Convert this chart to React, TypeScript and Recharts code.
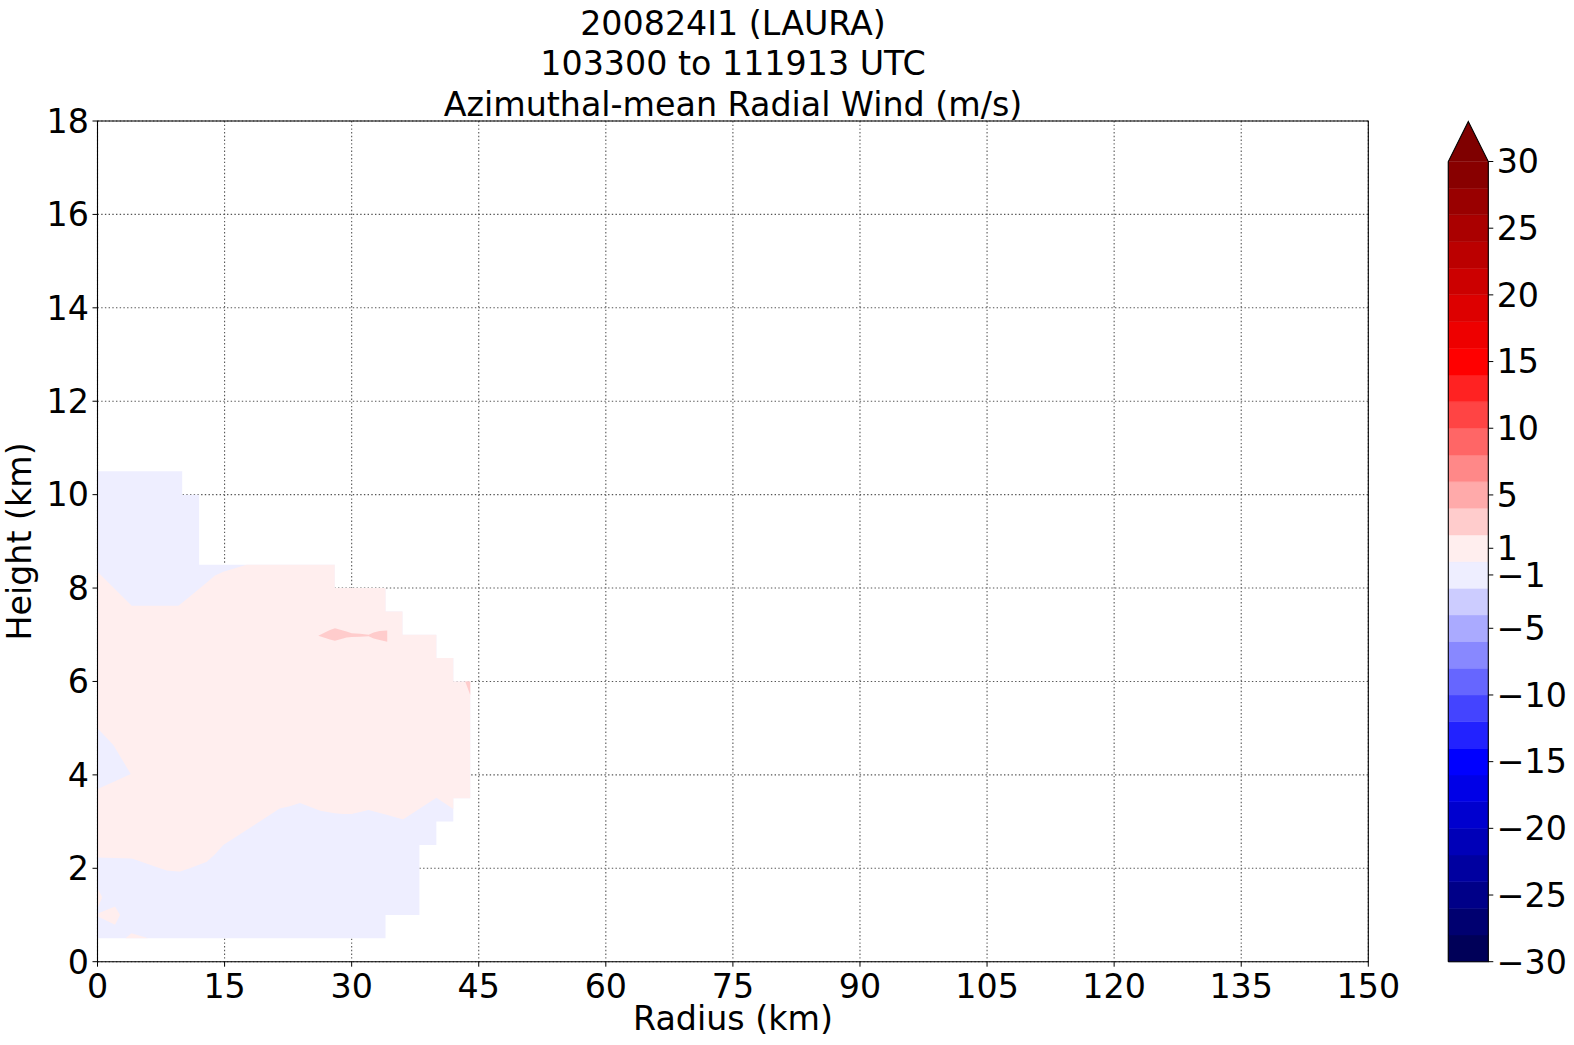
import React from "react";
import {
  ComposedChart, Area, Line, XAxis, YAxis, CartesianGrid, ReferenceArea,
} from "recharts";

// contour levels (m/s) and the colour of each filled band between them
const levels = [
  -30, -28, -26, -24, -22, -20, -18, -16, -14, -12, -10, -8, -6, -4, -2, 0,
  2, 4, 6, 8, 10, 12, 14, 16, 18, 20, 22, 24, 26, 28, 30,
];
const bandColors = [
  "#000058", "#000070", "#000088", "#0000a0", "#0000b8", "#0000cf", "#0000e7", "#0000ff",
  "#2222ff", "#4444ff", "#6666ff", "#8888ff", "#aaaaff", "#ccccff", "#eeeeff", "#ffeeee",
  "#ffcccc", "#ffaaaa", "#ff8888", "#ff6666", "#ff4444", "#ff2222", "#ff0000", "#ee0000",
  "#dd0000", "#cc0000", "#bb0000", "#aa0000", "#990000", "#880000",
]
const overColor = "#7f0000"
const cbarTicks = [-30, -25, -20, -15, -10, -5, -1, 1, 5, 10, 15, 20, 25, 30]

const radiusTicks = [0, 15, 30, 45, 60, 75, 90, 105, 120, 135, 150]
const heightTicks = [0, 2, 4, 6, 8, 10, 12, 14, 16, 18]

// regions of the contour plot: [radius km, lower height km, upper height km]
// outline of where data exists (drawn in the -2..0 band colour)
const dataFootprint = [
  [0, 0.5, 10.5], [10, 0.5, 10.5], [10, 0.5, 10], [12, 0.5, 10], [12, 0.5, 8.5],
  [28, 0.5, 8.5], [28, 0.5, 8], [34, 0.5, 8], [34, 1, 7.5], [36, 1, 7.5], [36, 1, 7],
  [38, 1, 7], [38, 2.5, 7], [40, 2.5, 7], [40, 3, 6.5], [42, 3, 6.5], [42, 3.5, 6],
  [44, 3.5, 6],
]
// 0..2 m/s outflow layer
const weakOutflow = [
  [0, 2.23, 8.35], [4.04, 2.21, 7.62], [4.23, 2.2, 7.62], [7.38, 2.0, 7.62],
  [8.17, 1.95, 7.62], [9.54, 1.93, 7.62], [9.74, 1.93, 7.65], [10.9, 2.0, 7.82],
  [12.9, 2.14, 8.12], [13.87, 2.3, 8.27], [14.85, 2.5, 8.35], [17.6, 2.82, 8.5],
  [21.5, 3.28, 8.5], [22.7, 3.33, 8.5], [23.9, 3.4, 8.5], [26.3, 3.23, 8.5],
  [28, 3.18, 8.5], [28, 3.18, 8], [29, 3.16, 8], [30, 3.16, 8], [32, 3.25, 8],
  [34, 3.15, 8], [34, 3.15, 7.5], [36, 3.05, 7.5], [36, 3.05, 7], [36.1, 3.05, 7],
  [40, 3.51, 7], [40, 3.51, 6.5], [42, 3.27, 6.5], [42, 3.5, 6], [44, 3.5, 6],
]
const inflowWedge = [[0, 3.7, 5.0], [1.87, 3.85, 4.64], [3.92, 4.02, 4.02]]
const lowOutflowBits = [
  [[0, 1.14, 1.57], [0.5, 1.36, 1.4]],
  [[0.1, 0.96, 1.04], [2.07, 0.79, 1.18], [2.66, 1.0, 1.0]],
  [[3.3, 0.5, 0.5], [4.0, 0.5, 0.61], [6.0, 0.5, 0.5]],
]
// 2..4 m/s patches
const strongerOutflow = [
  [[26.06, 6.98, 6.98], [27.44, 6.9, 7.1], [28.03, 6.87, 7.14], [29.4, 6.94, 7.07],
   [30.0, 6.95, 7.03], [31.0, 6.96, 7.02], [32.0, 6.97, 7.0], [32.6, 6.92, 7.05],
   [33.3, 6.89, 7.08], [34.2, 6.85, 7.09]],
  [[43.4, 6.0, 6.0], [44, 5.71, 6.0]],
]

const FONT = "DejaVu Sans"
const FS = 33.3

const toRows = (pts: number[][]) => pts.map(([x, lo, hi]) => ({ x, r: [lo, hi] }))

function region(key: string, pts: number[][], color: string) {
  return (
    <Area
      key={key}
      data={toRows(pts)}
      dataKey="r"
      type="linear"
      fill={color}
      fillOpacity={1}
      stroke="none"
      dot={false}
      activeDot={false}
      isAnimationActive={false}
    />
  )
}

const fmt = (v: number) => (v < 0 ? "\u2212" + Math.abs(v) : String(v))

function ColorBar() {
  const outline = [
    { x: 0, y: -30 }, { x: 0, y: 30 }, { x: 0.5, y: 33 }, { x: 1, y: 30 }, { x: 1, y: -30 }, { x: 0, y: -30 },
  ]
  const tip = [{ x: 0, r: [30, 30] }, { x: 0.5, r: [30, 33] }, { x: 1, r: [30, 30] }]
  return (
    <ComposedChart width={174} height={1045} margin={{ top: 121.5, right: 0, bottom: 83.3, left: 48.3 }}>
      <XAxis type="number" dataKey="x" domain={[0, 1]} hide />
      <YAxis
        type="number"
        orientation="right"
        domain={[-30, 33]}
        ticks={cbarTicks}
        interval={0}
        width={85.7}
        axisLine={false}
        tickLine={{ stroke: "#000", strokeWidth: 1 }}
        tickSize={5}
        tickMargin={3.4}
        tickFormatter={fmt}
        tick={{ fill: "#000", fontSize: FS, fontFamily: FONT }}
      />
      {bandColors.map((c, i) => (
        <ReferenceArea key={i} x1={0} x2={1} y1={levels[i]} y2={levels[i + 1]} fill={c} fillOpacity={1} stroke={c} strokeWidth={0.5} />
      ))}
      <Area data={tip} dataKey="r" type="linear" fill={overColor} fillOpacity={1} stroke="none" dot={false} activeDot={false} isAnimationActive={false} />
      <Line data={outline} dataKey="y" type="linear" stroke="#000" strokeWidth={1.1} dot={false} activeDot={false} isAnimationActive={false} />
    </ComposedChart>
  )
}

export default function App() {
  const lavender = bandColors[14]
  const paleRose = bandColors[15]
  const rose = bandColors[16]
  return (
    <div style={{ position: "absolute", left: 0, top: 0, width: 1574, height: 1045, background: "#fff", overflow: "hidden" }}>
      <ComposedChart width={1574} height={1045} margin={{ top: 121, right: 205.7, bottom: 0, left: 0 }}>
        <XAxis
          type="number"
          dataKey="x"
          domain={[0, 150]}
          ticks={radiusTicks}
          interval={0}
          allowDataOverflow
          height={83.3}
          axisLine={false}
          tickLine={{ stroke: "#000", strokeWidth: 1 }}
          tickSize={5}
          tickMargin={7.8}
          tick={{ fill: "#000", fontSize: FS, fontFamily: FONT }}
        />
        <YAxis
          type="number"
          domain={[0, 18]}
          ticks={heightTicks}
          interval={0}
          allowDataOverflow
          width={97.5}
          axisLine={false}
          tickLine={{ stroke: "#000", strokeWidth: 1 }}
          tickSize={5}
          tickMargin={3.6}
          tick={{ fill: "#000", fontSize: FS, fontFamily: FONT }}
        />
        {region("footprint", dataFootprint, lavender)}
        {region("weak", weakOutflow, paleRose)}
        {region("wedge", inflowWedge, lavender)}
        {lowOutflowBits.map((p, i) => region("bit" + i, p, paleRose))}
        {strongerOutflow.map((p, i) => region("spot" + i, p, rose))}
        <CartesianGrid stroke="#555" strokeWidth={1.1} strokeDasharray="1.4 2.3" />
        <ReferenceArea x1={0} x2={150} y1={0} y2={18} fill="none" stroke="#000" strokeWidth={1.1} />
      </ComposedChart>
      <div style={{ position: "absolute", left: 1400, top: 0 }}>
        <ColorBar />
      </div>
      <svg width={1574} height={1045} style={{ position: "absolute", left: 0, top: 0, pointerEvents: "none" }}>
        <g fontFamily={FONT} fontSize={FS} fill="#000" textAnchor="middle">
          <text x={733} y={34.5}>200824I1 (LAURA)</text>
          <text x={733} y={75}>103300 to 111913 UTC</text>
          <text x={733} y={115.5}>Azimuthal-mean Radial Wind (m/s)</text>
          <text x={733} y={1030}>Radius (km)</text>
          <text x={31.5} y={541.4} transform="rotate(-90 31.5 541.4)">Height (km)</text>
        </g>
      </svg>
    </div>
  )
}
